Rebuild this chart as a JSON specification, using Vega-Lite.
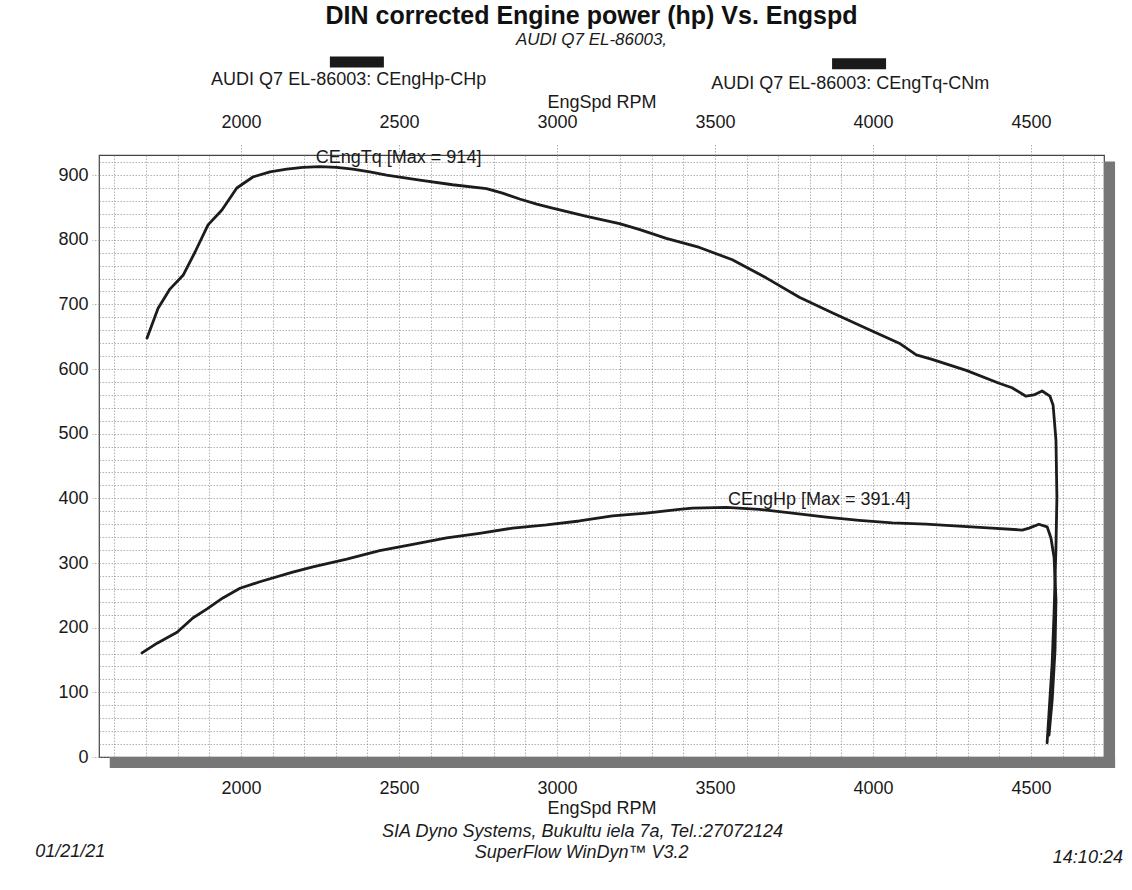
{
  "$schema": "https://vega.github.io/schema/vega-lite/v6.json",
  "width": 1005,
  "height": 602,
  "autosize": "none",
  "padding": {"left": 99, "top": 155, "right": 28, "bottom": 133},
  "background": "white",
  "config": {
    "font": "Liberation Sans",
    "view": {"stroke": "#444", "strokeWidth": 1.2},
    "text": {"font": "Liberation Sans", "fontSize": 18, "color": "#1a1a1a"},
    "axis": {"labelFont": "Liberation Sans", "titleFont": "Liberation Sans", "labelFontSize": 18, "titleFontSize": 18, "labelColor": "#1a1a1a", "titleColor": "#1a1a1a", "titleFontWeight": "normal", "domain": false}
  },
  "title": {
    "text": "DIN corrected Engine power (hp) Vs. Engspd",
    "subtitle": "AUDI Q7 EL-86003,",
    "font": "Liberation Sans",
    "fontSize": 25,
    "fontWeight": "bold",
    "color": "#111",
    "subtitleFont": "Liberation Sans",
    "subtitleFontSize": 17,
    "subtitleFontStyle": "italic",
    "subtitleColor": "#1a1a1a",
    "subtitlePadding": 3,
    "anchor": "middle",
    "dx": -10,
    "offset": 8
  },
  "datasets": {
    "hp": [
      {"rpm": 1687, "v": 161}, {"rpm": 1735, "v": 176}, {"rpm": 1798, "v": 193}, {"rpm": 1848, "v": 215},
      {"rpm": 1893, "v": 229}, {"rpm": 1943, "v": 246}, {"rpm": 1997, "v": 261}, {"rpm": 2060, "v": 271},
      {"rpm": 2164, "v": 286}, {"rpm": 2228, "v": 294}, {"rpm": 2335, "v": 306}, {"rpm": 2439, "v": 319},
      {"rpm": 2544, "v": 329}, {"rpm": 2651, "v": 339}, {"rpm": 2755, "v": 346}, {"rpm": 2860, "v": 354},
      {"rpm": 2967, "v": 359}, {"rpm": 3071, "v": 365}, {"rpm": 3176, "v": 373}, {"rpm": 3283, "v": 377},
      {"rpm": 3387, "v": 383}, {"rpm": 3429, "v": 385}, {"rpm": 3536, "v": 386}, {"rpm": 3640, "v": 383},
      {"rpm": 3745, "v": 377}, {"rpm": 3852, "v": 371}, {"rpm": 3956, "v": 366}, {"rpm": 4061, "v": 362},
      {"rpm": 4168, "v": 360}, {"rpm": 4272, "v": 357}, {"rpm": 4377, "v": 354}, {"rpm": 4472, "v": 351},
      {"rpm": 4494, "v": 354}, {"rpm": 4525, "v": 360}, {"rpm": 4551, "v": 356}, {"rpm": 4563, "v": 339},
      {"rpm": 4573, "v": 309}, {"rpm": 4579, "v": 243}, {"rpm": 4576, "v": 165}, {"rpm": 4567, "v": 88},
      {"rpm": 4557, "v": 34}
    ],
    "tq": [
      {"rpm": 1703, "v": 648}, {"rpm": 1738, "v": 694}, {"rpm": 1776, "v": 724}, {"rpm": 1817, "v": 745},
      {"rpm": 1855, "v": 781}, {"rpm": 1896, "v": 823}, {"rpm": 1940, "v": 846}, {"rpm": 1987, "v": 880},
      {"rpm": 2038, "v": 897}, {"rpm": 2092, "v": 905}, {"rpm": 2145, "v": 909}, {"rpm": 2196, "v": 912},
      {"rpm": 2250, "v": 913}, {"rpm": 2303, "v": 912}, {"rpm": 2354, "v": 909}, {"rpm": 2408, "v": 905},
      {"rpm": 2461, "v": 900}, {"rpm": 2566, "v": 892}, {"rpm": 2670, "v": 885}, {"rpm": 2777, "v": 879},
      {"rpm": 2828, "v": 872}, {"rpm": 2882, "v": 863}, {"rpm": 2936, "v": 855}, {"rpm": 2986, "v": 849},
      {"rpm": 3094, "v": 836}, {"rpm": 3198, "v": 825}, {"rpm": 3260, "v": 816}, {"rpm": 3346, "v": 802},
      {"rpm": 3451, "v": 788}, {"rpm": 3555, "v": 769}, {"rpm": 3662, "v": 741}, {"rpm": 3767, "v": 711},
      {"rpm": 3871, "v": 687}, {"rpm": 3978, "v": 663}, {"rpm": 4083, "v": 640}, {"rpm": 4137, "v": 622},
      {"rpm": 4187, "v": 615}, {"rpm": 4295, "v": 598}, {"rpm": 4399, "v": 578}, {"rpm": 4440, "v": 571},
      {"rpm": 4484, "v": 558}, {"rpm": 4509, "v": 560}, {"rpm": 4535, "v": 566}, {"rpm": 4560, "v": 558},
      {"rpm": 4570, "v": 544}, {"rpm": 4579, "v": 490}, {"rpm": 4582, "v": 402}, {"rpm": 4579, "v": 325},
      {"rpm": 4573, "v": 223}, {"rpm": 4567, "v": 145}, {"rpm": 4557, "v": 68}, {"rpm": 4551, "v": 22}
    ]
  },
  "resolve": {"axis": {"x": "independent", "y": "independent"}},
  "layer": [
    {
      "data": {"values": [{}]},
      "mark": {"type": "rect", "color": "#777", "clip": false},
      "encoding": {
        "x": {"datum": 1585, "type": "quantitative", "scale": {"domain": [1551, 4731], "nice": false, "zero": false}, "axis": null},
        "x2": {"datum": 4766},
        "y": {"datum": 0, "type": "quantitative", "scale": {"domain": [0, 931], "nice": false, "zero": false}, "axis": null},
        "y2": {"datum": -17}
      }
    },
    {
      "data": {"values": [{}]},
      "mark": {"type": "rect", "color": "#777", "clip": false},
      "encoding": {
        "x": {"datum": 4731, "type": "quantitative", "axis": null},
        "x2": {"datum": 4766},
        "y": {"datum": 921, "type": "quantitative", "axis": null},
        "y2": {"datum": -17}
      }
    },
    {
      "data": {"name": "hp"},
      "mark": {"type": "line", "color": "#1c1c1c", "strokeWidth": 2.8, "strokeJoin": "round", "strokeCap": "round"},
      "encoding": {
        "x": {
          "field": "rpm", "type": "quantitative",
          "axis": {
            "orient": "bottom",
            "values": [1600,1700,1800,1900,2000,2100,2200,2300,2400,2500,2600,2700,2800,2900,3000,3100,3200,3300,3400,3500,3600,3700,3800,3900,4000,4100,4200,4300,4400,4500,4600,4700],
            "format": "d",
            "labelExpr": "datum.value % 500 === 0 ? datum.label : ''",
            "grid": true,
            "gridColor": "#8c8c8c",
            "gridDash": [1.5, 1.5],
            "gridOpacity": 0.65,
            "tickColor": "#8c8c8c",
            "tickDash": [1.5, 1.5],
            "tickSize": 12,
            "tickOpacity": {"condition": {"test": "datum.value % 500 === 0", "value": 0.7}, "value": 0},
            "labelPadding": 10,
            "labelFlush": false,
            "labelOverlap": false,
            "title": "EngSpd RPM",
            "titlePadding": 2
          }
        },
        "y": {
          "field": "v", "type": "quantitative",
          "axis": {
            "orient": "left",
            "values": [0,20,40,60,80,100,120,140,160,180,200,220,240,260,280,300,320,340,360,380,400,420,440,460,480,500,520,540,560,580,600,620,640,660,680,700,720,740,760,780,800,820,840,860,880,900,920],
            "format": "d",
            "labelExpr": "datum.value % 100 === 0 ? datum.label : ''",
            "grid": true,
            "gridColor": "#8c8c8c",
            "gridDash": [1.5, 1.5],
            "gridOpacity": 0.65,
            "tickColor": "#8c8c8c",
            "tickDash": [1.5, 1.5],
            "tickSize": 7,
            "tickOpacity": {"condition": {"test": "datum.value % 100 === 0", "value": 0.7}, "value": 0},
            "labelPadding": 4,
            "labelFlush": false,
            "labelOverlap": false,
            "title": null
          }
        },
        "order": {"value": null}
      }
    },
    {
      "data": {"name": "tq"},
      "mark": {"type": "line", "color": "#1c1c1c", "strokeWidth": 2.8, "strokeJoin": "round", "strokeCap": "round"},
      "encoding": {
        "x": {
          "field": "rpm", "type": "quantitative",
          "axis": {
            "orient": "top",
            "values": [2000, 2500, 3000, 3500, 4000, 4500],
            "format": "d",
            "grid": false,
            "tickColor": "#8c8c8c",
            "tickDash": [1.5, 1.5],
            "tickSize": 12,
            "tickOpacity": 0.7,
            "labelPadding": 12,
            "labelFlush": false,
            "title": "EngSpd RPM",
            "titlePadding": 2
          }
        },
        "y": {"field": "v", "type": "quantitative", "axis": null},
        "order": {"value": null}
      }
    },
    {
      "data": {"values": [{}]},
      "mark": {"type": "text", "text": "CEngTq [Max = 914]", "clip": false},
      "encoding": {"x": {"datum": 2499, "type": "quantitative", "axis": null}, "y": {"datum": 926, "type": "quantitative", "axis": null}}
    },
    {
      "data": {"values": [{}]},
      "mark": {"type": "text", "text": "CEngHp [Max = 391.4]", "clip": false},
      "encoding": {"x": {"datum": 3830, "type": "quantitative", "axis": null}, "y": {"datum": 397, "type": "quantitative", "axis": null}}
    },
    {
      "data": {"values": [{}]},
      "mark": {"type": "tick", "orient": "horizontal", "size": 54, "thickness": 11, "color": "#1a1a1a", "opacity": 1, "clip": false},
      "encoding": {"x": {"datum": 2367, "type": "quantitative", "axis": null}, "y": {"datum": 1075, "type": "quantitative", "axis": null}}
    },
    {
      "data": {"values": [{}]},
      "mark": {"type": "tick", "orient": "horizontal", "size": 54, "thickness": 11, "color": "#1a1a1a", "opacity": 1, "clip": false},
      "encoding": {"x": {"datum": 3956, "type": "quantitative", "axis": null}, "y": {"datum": 1072, "type": "quantitative", "axis": null}}
    },
    {
      "data": {"values": [{}]},
      "mark": {"type": "text", "text": "AUDI Q7 EL-86003: CEngHp-CHp", "clip": false},
      "encoding": {"x": {"datum": 2341, "type": "quantitative", "axis": null}, "y": {"datum": 1047, "type": "quantitative", "axis": null}}
    },
    {
      "data": {"values": [{}]},
      "mark": {"type": "text", "text": "AUDI Q7 EL-86003: CEngTq-CNm", "clip": false},
      "encoding": {"x": {"datum": 3928, "type": "quantitative", "axis": null}, "y": {"datum": 1041, "type": "quantitative", "axis": null}}
    },
    {
      "data": {"values": [{}]},
      "mark": {"type": "text", "text": "SIA Dyno Systems, Bukultu iela 7a, Tel.:27072124", "fontStyle": "italic", "fontSize": 18, "clip": false},
      "encoding": {"x": {"datum": 3081, "type": "quantitative", "axis": null}, "y": {"datum": -116, "type": "quantitative", "axis": null}}
    },
    {
      "data": {"values": [{}]},
      "mark": {"type": "text", "text": "SuperFlow WinDyn™ V3.2", "fontStyle": "italic", "fontSize": 18, "clip": false},
      "encoding": {"x": {"datum": 3078, "type": "quantitative", "axis": null}, "y": {"datum": -148, "type": "quantitative", "axis": null}}
    },
    {
      "data": {"values": [{}]},
      "mark": {"type": "text", "text": "01/21/21", "fontStyle": "italic", "fontSize": 18, "clip": false},
      "encoding": {"x": {"datum": 1460, "type": "quantitative", "axis": null}, "y": {"datum": -147, "type": "quantitative", "axis": null}}
    },
    {
      "data": {"values": [{}]},
      "mark": {"type": "text", "text": "14:10:24", "fontStyle": "italic", "fontSize": 18, "clip": false},
      "encoding": {"x": {"datum": 4680, "type": "quantitative", "axis": null}, "y": {"datum": -156, "type": "quantitative", "axis": null}}
    }
  ]
}
